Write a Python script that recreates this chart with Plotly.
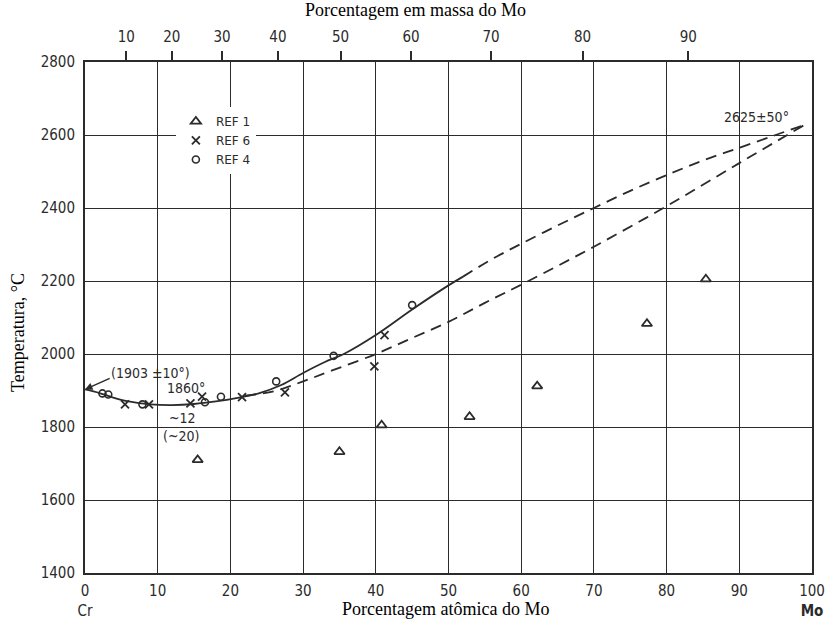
import plotly.graph_objects as go

# ---------------- data ----------------
# liquidus / solidus (atomic % Mo, temperature °C)
solid_x = [0, 2, 4, 6, 9, 12, 15, 18, 21, 24, 27, 30, 33, 35.6, 40, 45, 50, 52]
solid_y = [1903, 1893, 1880, 1870, 1862, 1860, 1863, 1870, 1880, 1893, 1915, 1948, 1978, 2000, 2052, 2122, 2188, 2212]

upper_x = [52, 56, 60, 65, 70, 75, 80, 85, 90, 95, 99]
upper_y = [2212, 2260, 2302, 2352, 2400, 2447, 2490, 2530, 2565, 2600, 2628]

lower_x = [22, 26, 30, 34, 40, 45, 50, 55, 61, 70, 80, 90, 99]
lower_y = [1886, 1898, 1925, 1955, 2000, 2044, 2088, 2140, 2200, 2294, 2405, 2523, 2628]

ref1_x = [15.5, 35.0, 40.8, 52.9, 62.2, 77.3, 85.4]
ref1_y = [1710, 1732, 1805, 1828, 1912, 2083, 2205]

ref6_x = [5.5, 8.8, 14.5, 16.1, 21.6, 27.5, 39.8, 41.2]
ref6_y = [1862, 1862, 1865, 1883, 1882, 1895, 1966, 2052]

ref4_x = [2.4, 3.2, 7.9, 16.5, 18.7, 26.3, 34.2, 45.0]
ref4_y = [1892, 1889, 1862, 1868, 1883, 1925, 1995, 2134]

x_ticks = [0, 10, 20, 30, 40, 50, 60, 70, 80, 90, 100]
x_ticktext = ["0<br>Cr", "10", "20", "30", "40", "50", "60", "70", "80", "90", "100<br><b>Mo</b>"]
y_ticks = [1400, 1600, 1800, 2000, 2200, 2400, 2600, 2800]
mass_ticks = [10, 20, 30, 40, 50, 60, 70, 80, 90]   # mass % Mo (top axis)
M_MO = 95.95
M_CR = 52.00

# top-axis positions: mass % -> atomic %
mass_pos = [(w / M_MO) / (w / M_MO + (100 - w) / M_CR) * 100 for w in mass_ticks]

INK = "#2b2b2b"
TICKFONT = dict(family="DejaVu Sans Condensed, Liberation Sans Narrow, DejaVu Sans", size=15, color=INK)
SERIF = dict(family="Liberation Serif, Times New Roman, serif", size=18, color="#000000")

fig = go.Figure()

fig.add_trace(go.Scatter(x=solid_x, y=solid_y, mode="lines", line=dict(color=INK, width=1.8, shape="spline"),
                         showlegend=False, hoverinfo="skip"))
fig.add_trace(go.Scatter(x=upper_x, y=upper_y, mode="lines",
                         line=dict(color=INK, width=1.8, shape="spline", dash="11px,7px"),
                         showlegend=False, hoverinfo="skip"))
fig.add_trace(go.Scatter(x=lower_x, y=lower_y, mode="lines",
                         line=dict(color=INK, width=1.8, shape="spline", dash="11px,7px"),
                         showlegend=False, hoverinfo="skip"))

fig.add_trace(go.Scatter(x=ref1_x, y=ref1_y, mode="markers", name="REF 1",
                         marker=dict(symbol="triangle-up-open", size=9, color=INK, line=dict(width=1.8))))
fig.add_trace(go.Scatter(x=ref6_x, y=ref6_y, mode="markers", name="REF 6",
                         marker=dict(symbol="x-thin-open", size=8, color=INK, line=dict(width=1.8, color=INK))))
fig.add_trace(go.Scatter(x=ref4_x, y=ref4_y, mode="markers", name="REF 4",
                         marker=dict(symbol="circle-open", size=7, color=INK, line=dict(width=1.6))))

# dummy trace for the top axis
fig.add_trace(go.Scatter(x=[0, 100], y=[1400, 1400], xaxis="x2", mode="markers",
                         marker=dict(opacity=0), showlegend=False, hoverinfo="skip"))

fig.update_layout(
    width=830, height=624,
    margin=dict(l=85, r=18, t=62, b=51),
    paper_bgcolor="white", plot_bgcolor="white",
    xaxis=dict(range=[0, 100], tickvals=x_ticks, ticktext=x_ticktext, showgrid=True,
               gridcolor=INK, gridwidth=1.3, showline=True, linecolor=INK, linewidth=2,
               mirror=True, ticks="", tickfont=TICKFONT, ticklabelstandoff=3, zeroline=False,
               automargin=False),
    xaxis2=dict(range=[0, 100], overlaying="x", side="top", tickvals=mass_pos,
                ticktext=[str(v) for v in mass_ticks], ticks="outside", ticklen=10,
                tickcolor=INK, tickwidth=1.5, showgrid=False, tickfont=TICKFONT, zeroline=False,
                ticklabelstandoff=3, automargin=False),
    yaxis=dict(range=[1400, 2800], tickvals=y_ticks, showgrid=True, gridcolor=INK, gridwidth=1.3,
               showline=True, linecolor=INK, linewidth=2, mirror=True, ticks="", zeroline=False,
               tickfont=TICKFONT, ticklabelstandoff=5, automargin=False),
    legend=dict(x=0.125, y=0.912, xanchor="left", yanchor="top", bgcolor="white",
                font=dict(family="DejaVu Sans, sans-serif", size=12, color=INK),
                itemwidth=30, tracegroupgap=0),
    showlegend=True,
)

# axis titles
fig.add_annotation(xref="paper", yref="paper", x=0.496, y=-0.0705, text="Porcentagem atômica do Mo",
                   showarrow=False, font=SERIF, yanchor="middle")
fig.add_annotation(xref="paper", yref="paper", x=0.455, y=1.1018, text="Porcentagem em massa do Mo",
                   showarrow=False, font=SERIF, yanchor="middle")
fig.add_annotation(xref="paper", yref="paper", x=-0.092, y=0.47, text="Temperatura, °C", textangle=-90,
                   showarrow=False, font=SERIF, xanchor="center", yanchor="middle")

ann_font = dict(family="DejaVu Sans Condensed, DejaVu Sans", size=14, color=INK)
fig.add_annotation(x=9.0, y=1949, text="(1903 ±10°)", showarrow=False, font=ann_font)
fig.add_annotation(x=0, y=1903, ax=3.6, ay=1935, axref="x", ayref="y", text="", showarrow=True,
                   arrowhead=2, arrowsize=1, arrowwidth=1.5, arrowcolor=INK)
fig.add_annotation(x=13.9, y=1908, text="1860°", showarrow=False, font=ann_font)
fig.add_annotation(x=13.4, y=1824, text="~12", showarrow=False, font=ann_font)
fig.add_annotation(x=13.2, y=1776, text="(~20)", showarrow=False, font=ann_font)
fig.add_annotation(x=92.4, y=2648, text="2625±50°", showarrow=False, font=ann_font)

fig.write_html("out.html")
